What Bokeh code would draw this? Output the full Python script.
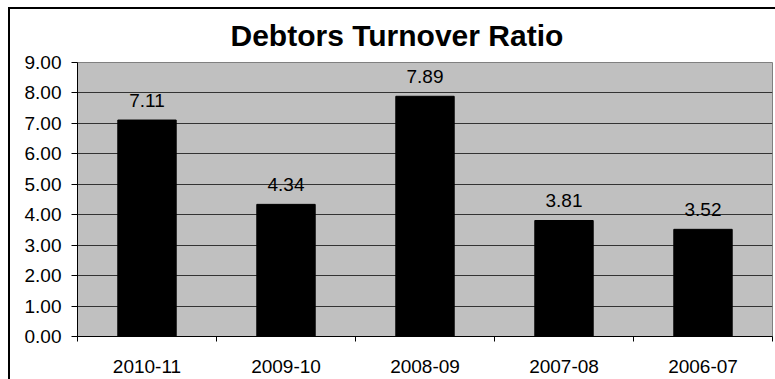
from bokeh.plotting import figure
from bokeh.models import FixedTicker, Range1d, ColumnDataSource, NumeralTickFormatter
from bokeh.core.properties import value
from bokeh.embed import file_html
from bokeh.resources import INLINE

title_text = "Debtors Turnover Ratio"
years = ["2010-11", "2009-10", "2008-09", "2007-08", "2006-07"]
ratios = [7.11, 4.34, 7.89, 3.81, 3.52]
y_ticks = [0, 1, 2, 3, 4, 5, 6, 7, 8, 9]

FONT = "Liberation Sans"

xs = [i + 0.5 for i in range(len(years))]
src = ColumnDataSource(dict(x=xs, top=ratios, label=[f"{v:.2f}" for v in ratios]))

p = figure(width=775, height=379, output_backend="svg", toolbar_location=None,
           title=title_text,
           x_range=Range1d(0, len(years)), y_range=Range1d(0, 9),
           min_border_left=77, min_border_right=3, min_border_top=62, min_border_bottom=43,
           background_fill_color="#C0C0C0", border_fill_alpha=0,
           outline_line_color="#808080", outline_line_width=1)
# white chart area with the outer chart border (left and top edges visible)
p.styles = {"background": "linear-gradient(#000,#000) 8px 7px / 2px 100% no-repeat, "
                          "linear-gradient(#000,#000) 8px 7px / 100% 2px no-repeat, #ffffff"}

p.title.align = "left"
p.title.offset = 153
p.title.text_font = FONT
p.title.text_font_size = "30px"
p.title.text_font_style = "bold"
p.title.text_color = "black"
p.title.standoff = 22

p.vbar(x="x", top="top", width=0.42, source=src, fill_color="black", line_color="black")
p.text(x="x", y="top", text="label", source=src, y_offset=-20,
       text_align="center", text_baseline="alphabetic",
       text_font=value(FONT), text_font_size="19px", text_color="black")

# x axis
p.xaxis.ticker = FixedTicker(ticks=xs, minor_ticks=list(range(len(years) + 1)))
p.xaxis.major_label_overrides = {x: y for x, y in zip(xs, years)}
p.xaxis.major_tick_out = 0
p.xaxis.major_tick_in = 0
p.xaxis.minor_tick_out = 5
p.xaxis.minor_tick_in = 0
p.xaxis.minor_tick_line_color = "black"
p.xaxis.axis_line_color = "black"
p.xaxis.major_label_standoff = 18
p.xaxis.major_label_text_font = FONT
p.xaxis.major_label_text_font_size = "19px"
p.xaxis.major_label_text_color = "black"
p.xgrid.visible = False

# y axis
p.yaxis.ticker = FixedTicker(ticks=y_ticks, minor_ticks=[])
p.yaxis.formatter = NumeralTickFormatter(format="0.00")
p.yaxis.major_tick_out = 6
p.yaxis.major_tick_in = 0
p.yaxis.major_tick_line_color = "black"
p.yaxis.axis_line_color = "black"
p.yaxis.major_label_standoff = 10
p.yaxis.major_label_text_font = FONT
p.yaxis.major_label_text_font_size = "19px"
p.yaxis.major_label_text_color = "black"
p.ygrid.grid_line_color = "#333333"
p.ygrid.grid_line_width = 1

open("out.html", "w").write(file_html(p, INLINE))
